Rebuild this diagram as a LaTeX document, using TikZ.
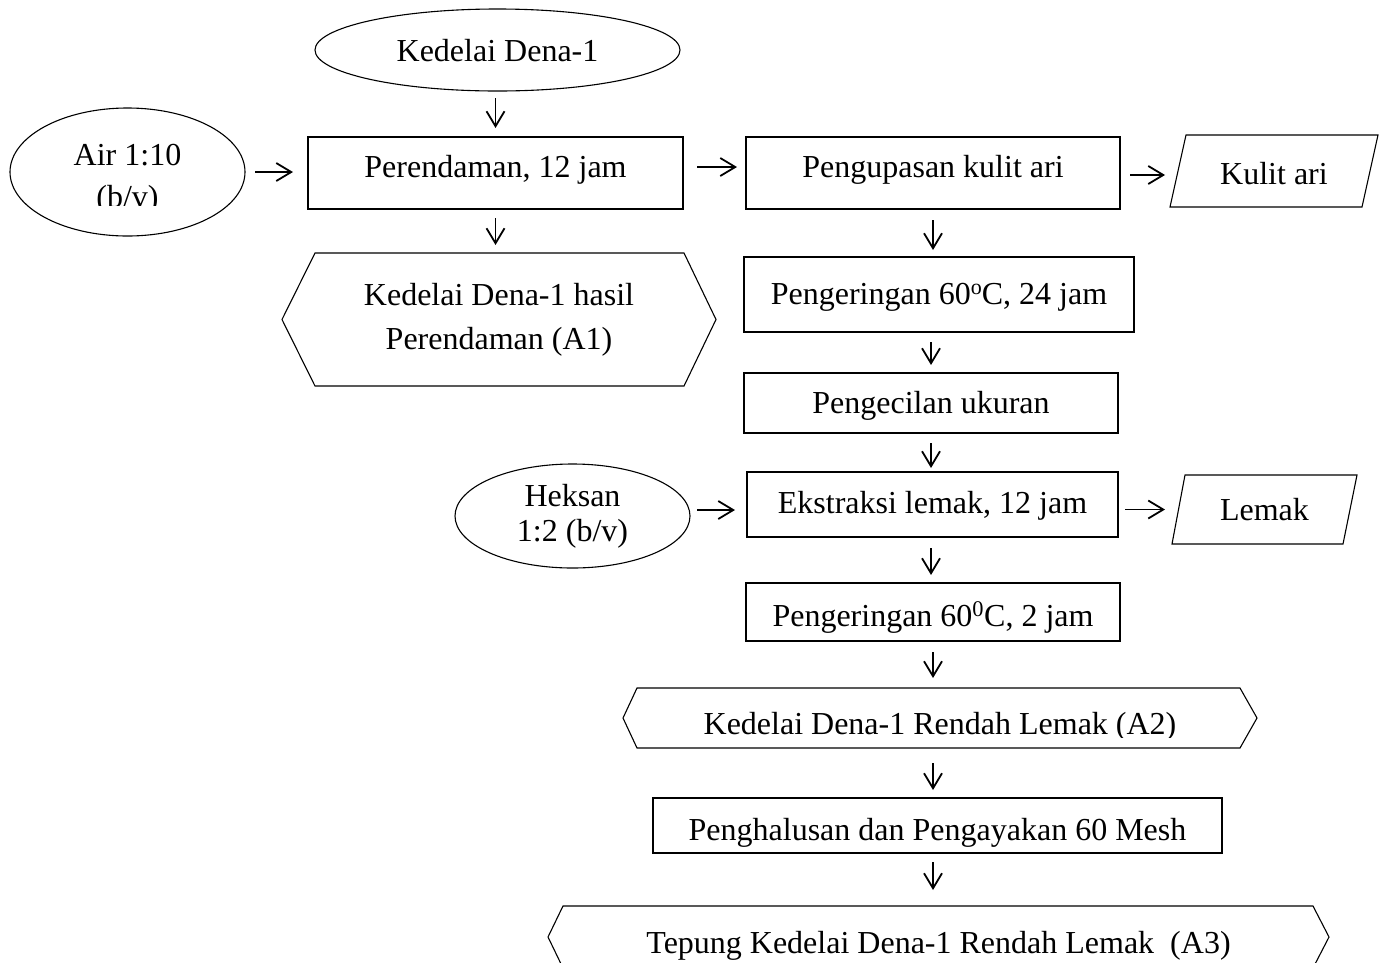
\documentclass[tikz,border=0pt]{standalone}
\usepackage{fontspec}
\setmainfont{Liberation Serif}
\usetikzlibrary{arrows.meta,shapes.geometric}
\begin{document}
\begin{tikzpicture}[x=1pt,y=-1pt,
  txt/.style={font=\fontsize{32}{38.5}\selectfont, inner sep=0pt, outer sep=0pt},
  rbox/.style={txt, draw, line width=1.1pt, rectangle},
  ell/.style={txt, draw, line width=1.1pt, ellipse},
  plain/.style={txt},
  outl/.style={line width=1.1pt, line join=miter},
  arr/.style={line width=1.8pt, -{Straight Barb[length=15pt,width=18pt,line width=1.8pt]}},
]
\useasboundingbox (0,0) rectangle (1384,962);
\clip (0,0) rectangle (1384,962);

% ---- ellipses ----
\node[ell, minimum width=365pt, minimum height=82pt, text height=24pt, text depth=2pt] (ked) at (497.5,50) {Kedelai Dena-1};
\node[ell, minimum width=235pt, minimum height=128pt] (air) at (127.5,172) {};
\begin{scope}
  \clip (0,100) rectangle (260,205);
  \node[txt, anchor=base] (airtx1) at (127.5,165) {Air 1:10};
  \node[txt, anchor=base] (airtx2) at (127.5,207) {(b/v)};
\end{scope}
\node[ell, minimum width=235pt, minimum height=104pt, align=center] (hek) at (572.5,516) {Heksan\\[-3.5pt]1:2 (b/v)};

% ---- rectangles ----
\node[rbox, minimum width=375pt, minimum height=72pt, text height=24pt, text depth=16pt] (per) at (495.5,173) {Perendaman, 12 jam};
\node[rbox, minimum width=374pt, minimum height=72pt, text height=24pt, text depth=16pt] (peng) at (933,173) {Pengupasan kulit ari};
\node[rbox, minimum width=390pt, minimum height=75pt, text height=24pt, text depth=5pt] (p24) at (939,294.5) {Pengeringan 60\raisebox{0.3em}{\fontsize{22}{22}\selectfont o}C, 24 jam};
\node[rbox, minimum width=374pt, minimum height=60pt, text height=24pt, text depth=4pt] (pcl) at (931,403) {Pengecilan ukuran};
\node[rbox, minimum width=371pt, minimum height=65pt, text height=24pt, text depth=7pt] (eks) at (932.5,504.5) {Ekstraksi lemak, 12 jam};
\node[rbox, minimum width=374pt, minimum height=58pt, text height=30pt, text depth=2pt] (p2) at (933,612) {Pengeringan 60\textsuperscript{0}C, 2 jam};
\node[rbox, minimum width=569pt, minimum height=55pt, text height=30pt, text depth=1pt] (pen) at (937.5,825.5) {Penghalusan dan Pengayakan 60 Mesh};

% ---- parallelograms ----
\node[plain, minimum width=208pt, minimum height=72pt, text height=28pt, text depth=2pt] (kul) at (1274,171) {Kulit ari};
\draw[outl] ([xshift=16pt]kul.north west) -- (kul.north east) -- ([xshift=-16pt]kul.south east) -- (kul.south west) -- cycle;
\node[plain, minimum width=185pt, minimum height=69pt, text height=24pt, text depth=3pt] (lem) at (1264.5,509.5) {Lemak};
\draw[outl] ([xshift=13pt]lem.north west) -- (lem.north east) -- ([xshift=-14pt]lem.south east) -- (lem.south west) -- cycle;

% ---- hexagons ----
\node[plain, minimum width=434pt, minimum height=133pt, align=center] (a1) at (499,319.5) {\rule{0pt}{0pt}Kedelai Dena-1 hasil\\[5.5pt]Perendaman (A1)\rule[-6pt]{0pt}{0pt}};
\draw[outl] (a1.west) -- ([xshift=33pt]a1.north west) -- ([xshift=-32pt]a1.north east) -- (a1.east) -- ([xshift=-32pt]a1.south east) -- ([xshift=33pt]a1.south west) -- cycle;

\node[plain, minimum width=634pt, minimum height=60pt] (a2) at (940,718) {};
\draw[outl] (a2.west) -- ([xshift=14pt]a2.north west) -- ([xshift=-17pt]a2.north east) -- (a2.east) -- ([xshift=-17pt]a2.south east) -- ([xshift=14pt]a2.south west) -- cycle;
\begin{scope}
  \clip (600,690) rectangle (1280,737);
  \node[txt, anchor=base] (a2tx) at (940,734) {Kedelai Dena-1 Rendah Lemak (A2)};
\end{scope}

\node[plain, minimum width=781pt, minimum height=62pt] (a3) at (938.5,937) {};
\draw[outl] (a3.west) -- ([xshift=15pt]a3.north west) -- ([xshift=-16pt]a3.north east) -- (a3.east) -- ([xshift=-16pt]a3.south east) -- ([xshift=15pt]a3.south west) -- cycle;
\node[txt, anchor=base] (a3tx) at (938.5,953) {Tepung Kedelai Dena-1 Rendah Lemak \ (A3)};

% ---- connectors ----
\draw[arr, shorten <=7pt, shorten >=9pt] (ked.south -| per.north) -- (per.north);
\draw[arr, shorten <=9pt, shorten >=8pt] (per.south) -- (per.south |- a1.north);
\draw[arr, shorten <=10pt, shorten >=15pt] (air.east) -- (air.east -| per.west);
\draw[arr, shorten <=14pt, shorten >=9pt] ([yshift=6pt]per.east) -- ([yshift=6pt]peng.west);
\draw[arr, shorten <=10pt, shorten >=5pt] ([yshift=-2pt]peng.east) -- ([yshift=-2pt]peng.east -| kul.west);
\draw[arr, shorten <=11pt, shorten >=7pt] (peng.south) -- (peng.south |- p24.north);
\draw[arr, shorten <=10pt, shorten >=8pt] (pcl.north |- p24.south) -- (pcl.north);
\draw[arr, shorten <=10pt, shorten >=4pt] (pcl.south) -- (pcl.south |- eks.north);
\draw[arr, shorten <=7pt, shorten >=12pt] ([yshift=6pt]hek.east) -- ([yshift=6pt]hek.east -| eks.west);
\draw[arr, shorten <=7pt, shorten >=7pt] (eks.east |- lem.west) -- (lem.west);
\draw[arr, shorten <=11pt, shorten >=8pt] (eks.south -| pcl.south) -- (p2.north -| pcl.south);
\draw[arr, shorten <=11pt, shorten >=10pt] (p2.south) -- (p2.south |- a2.north);
\draw[arr, shorten <=15pt, shorten >=8pt] (a2.south -| p2.south) -- (pen.north -| p2.south);
\draw[arr, shorten <=9pt, shorten >=16pt] (pen.south -| p2.south) -- (a3.north -| p2.south);
\end{tikzpicture}
\end{document}
